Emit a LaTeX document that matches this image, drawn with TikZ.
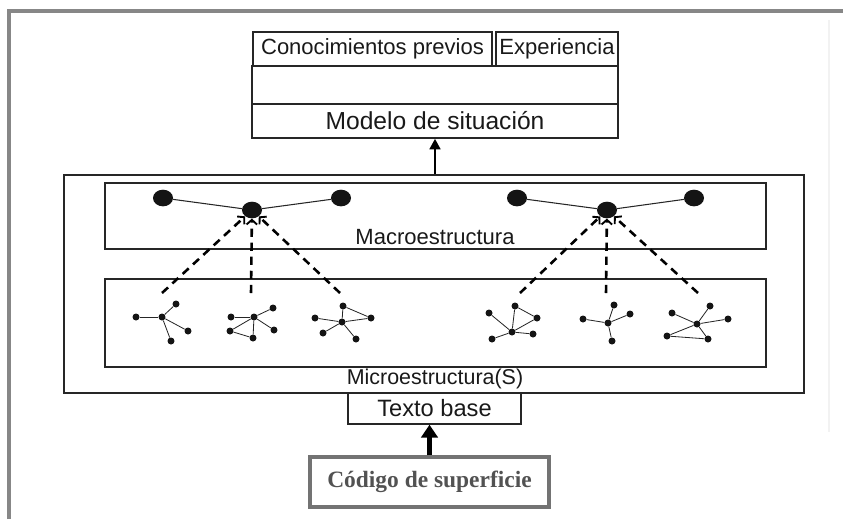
\documentclass[tikz,border=0pt]{standalone}
\usepackage{fontspec}
\setmainfont{Liberation Serif}
\setsansfont{Liberation Sans}
\usetikzlibrary{shapes.geometric, arrows.meta, fit}

\begin{document}
\begin{tikzpicture}[x=0.03cm, y=-0.03cm,
  box/.style={draw=black!85, line width=1.2pt, inner sep=0pt},
  txt/.style={font=\sffamily\fontsize{#1}{24}\selectfont, text=black!90},
  bigdot/.style={ellipse, fill=black!92, inner sep=0pt, minimum width=0.6cm, minimum height=0.5cm},
  smalldot/.style={circle, fill=black!92, inner sep=0pt, minimum size=0.21cm},
  enlace/.style={dash pattern=on 7pt off 5pt, line width=2.2pt, -{Straight Barb[length=4pt, width=9pt, line width=1.6pt]}}]
  \useasboundingbox (0,0) rectangle (843,519);
  % Frame
  \draw[black!47, line width=3.4pt] (9,519) -- (9,11) -- (843,11);
  \draw[black!5, line width=1pt] (829,20) -- (829,432);
  % Situation model
  \node[box, fit={(253,32) (492,66)}] (conoc) {};
  \node[box, fit={(496,32) (618,66)}] (exper) {};
  \node[box, fit={(252,66) (618,104)}] (vacio) {};
  \node[box, fit={(252,104) (618,138)}] (modelo) {};
  \node[txt=18.8] (conoclbl) at (conoc) {Conocimientos previos};
  \node[txt=18.8] (experlbl) at (exper) {Experiencia};
  \node[txt=21] (modelolbl) at (modelo) {Modelo de situación};
  % Text base
  \node[box, line width=1.5pt, fit={(64,175) (804,393)}] (marco) {};
  \node[box, fit={(105,183) (766,249)}] (macro) {};
  \node[box, fit={(105,279) (766,367)}] (micro) {};
  \node[txt=18.8] (macrolbl) at (435,237) {Macroestructura};
  \node[txt=18.3] (microlbl) at (435,379) {Microestructura(S)};
  \node[box, fit={(348,393) (521,424)}] (texto) {};
  \node[txt=20.2] (textolbl) at (texto) {Texto base};
  % Surface code
  \node[draw=black!55, line width=2.6pt, inner sep=0pt, fit={(310,457) (549,507)}] (codigo) {};
  \node[font=\bfseries\fontsize{20}{24}\selectfont, text=black!68] (codigolbl) at (codigo) {Código de superficie};
  % Arrows
  \draw[line width=2.4pt, -{Triangle[length=9pt, width=9pt]}] (modelo.south |- marco.north) -- (modelo.south);
  \draw[line width=3.6pt, -{Triangle[length=11pt, width=14pt]}] (codigo.north) -- (codigo.north |- texto.south);
  % Macrostructure
  \foreach \n/\x/\y in {ma1/163/198, ma2/252/210, ma3/341/198, ma4/517/198, ma5/607/210, ma6/694/198} {
    \node[bigdot] (\n) at (\x,\y) {};
  }
  \foreach \a/\b in {ma1/ma2, ma2/ma3, ma4/ma5, ma5/ma6} {
    \draw[line width=0.9pt, black!85] (\a) -- (\b);
  }
  % Links to microstructures
  \foreach \n/\x in {d1/162, d2/251, d3/340, d4/520, d5/606, d6/698} {
    \coordinate (\n) at (\x,293);
  }
  \foreach \d in {d1,d2,d3} {
    \draw[enlace] (\d) -- (ma2);
  }
  \foreach \d in {d4,d5,d6} {
    \draw[enlace] (\d) -- (ma5);
  }
  % Microstructures
  \foreach \n/\x/\y in {
      g1a/136/317, g1c/162/317, g1b/176/304, g1d/188/331, g1e/171/341,
      g2a/231/317, g2c/254/317, g2b/273/308, g2d/274/330, g2e/230/331, g2f/253/338,
      g3a/315/318, g3c/342/322, g3b/343/306, g3d/371/318, g3e/323/333, g3f/356/339,
      g4a/489/313, g4c/512/332, g4b/515/306, g4d/537/318, g4e/492/339, g4f/533/334,
      g5a/583/319, g5c/608/323, g5b/614/305, g5d/630/314, g5e/612/341,
      g6a/672/313, g6c/697/324, g6b/710/306, g6d/728/319, g6e/667/336, g6f/708/339} {
    \node[smalldot] (\n) at (\x,\y) {};
  }
  \foreach \a/\b in {
      g1a/g1c, g1c/g1b, g1c/g1d, g1c/g1e,
      g2a/g2c, g2c/g2b, g2c/g2d, g2e/g2c, g2e/g2f, g2c/g2f,
      g3b/g3c, g3b/g3d, g3a/g3c, g3c/g3d, g3c/g3e, g3c/g3f,
      g4a/g4c, g4b/g4c, g4b/g4d, g4d/g4c, g4c/g4e, g4c/g4f,
      g5a/g5c, g5b/g5c, g5d/g5c, g5e/g5c,
      g6a/g6c, g6c/g6b, g6c/g6d, g6c/g6e, g6e/g6f, g6f/g6c} {
    \draw[line width=0.7pt, black!85] (\a) -- (\b);
  }
\end{tikzpicture}
\end{document}
